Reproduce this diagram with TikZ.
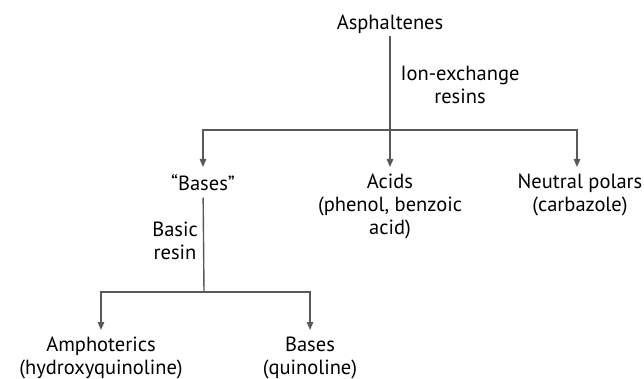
\documentclass[tikz,border=0pt]{standalone}
\usepackage{fontspec}
\setmainfont{PT Sans}
\usetikzlibrary{arrows.meta,positioning}

\begin{document}
\begin{tikzpicture}[
  x=1pt, y=-1pt,
  item/.style={align=center, inner sep=0pt, anchor=north, font=\fontsize{20.5}{23}\selectfont},
  tag/.style={align=center, inner sep=0pt, anchor=north, font=\fontsize{20.5}{23}\selectfont},
  arrow/.style={-{Triangle[length=8pt,width=6.5pt]}, draw=black!65, line width=1.4pt, shorten >=7pt},
  line/.style={draw=black!65, line width=1.4pt}
]
\useasboundingbox (0,0) rectangle (644,379);

% Fractions
\node[item] (asph) at (390,15) {Asphaltenes};
\node[item] (bases) at (203,174) {``Bases''};
\node[item] (acids) at (390,174) {Acids\\(phenol, benzoic\\acid)};
\node[item] (neutral) at (580,174) {Neutral polars\\(carbazole)};
\node[item] (amph) at (101,337) {Amphoterics\\(hydroxyquinoline)};
\node[item] (quin) at (310,337) {Bases\\(quinoline)};

% Separation steps
\node[tag] (ionex) at (460,66) {Ion-exchange\\resins};
\node[tag, anchor=north east] (basic) at (198,222) {Basic\\resin};

% Branch points
\coordinate (split) at (390,130);
\coordinate (lsplit) at (204,292);

% Connectors
\draw[arrow, shorten <=2pt] (asph) -- (acids);
\draw[line] (203,130) -- (577,130);
\draw[arrow] (split) -| (bases);
\draw[arrow] (split) -| (577,174);
\draw[line, shorten <=7pt] (bases) -- (lsplit);
\draw[arrow] (lsplit) -| (amph);
\draw[arrow] (lsplit) -| (quin);

\end{tikzpicture}
\end{document}
